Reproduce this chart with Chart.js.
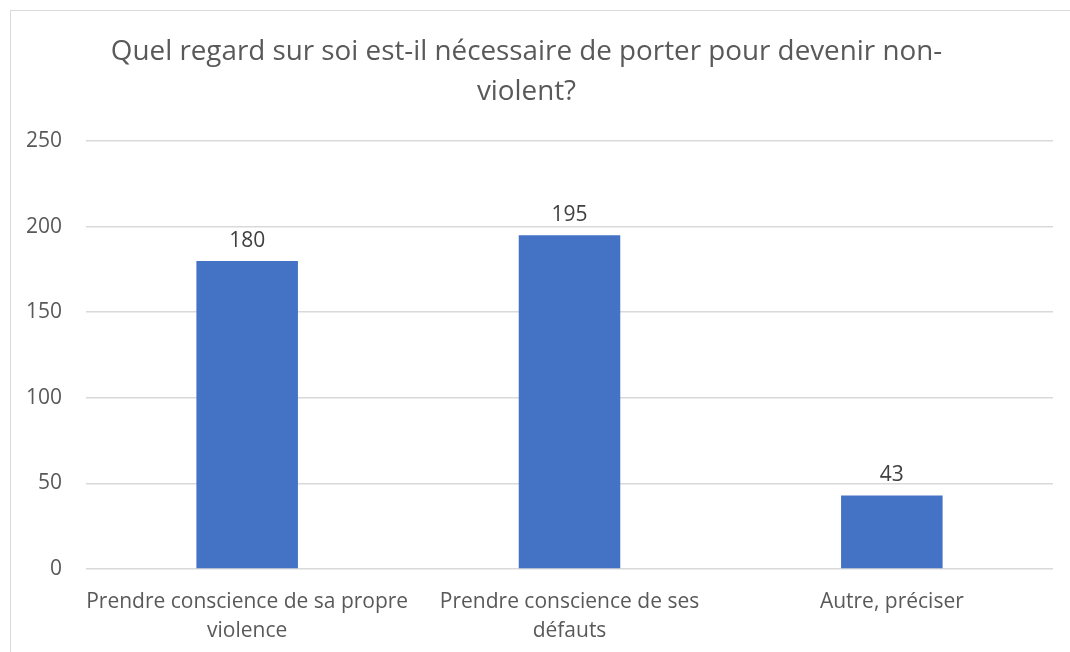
<!DOCTYPE html>
<html><head><meta charset="utf-8">
<script src="https://cdn.jsdelivr.net/npm/chart.js@4/dist/chart.umd.min.js"></script>
<style>
html,body{margin:0;padding:0;background:#fff;}
#wrap{position:relative;width:1070px;height:652px;overflow:hidden;}
#frame{position:absolute;left:10px;top:10px;width:1200px;height:800px;border:1px solid #d9d9d9;}
canvas{position:absolute;left:0;top:0;}
</style></head>
<body>
<div id="wrap"><div id="frame"></div><canvas id="c" width="1070" height="652"></canvas></div>
<script>
const titleLines = ["Quel regard sur soi est-il nécessaire de porter pour devenir non-", "violent?"];
const categories = [["Prendre conscience de sa propre", "violence"], ["Prendre conscience de ses", "défauts"], ["Autre, préciser"]];
const values = [180, 195, 43];
const yTicks = [0, 50, 100, 150, 200, 250];

const FONT = "'Open Sans', sans-serif";
const labelPlugin = {
  id: 'valueLabels',
  afterDatasetsDraw(chart) {
    const ctx = chart.ctx;
    const meta = chart.getDatasetMeta(0);
    ctx.save();
    ctx.fillStyle = '#404040';
    ctx.font = '21px ' + FONT;
    ctx.textAlign = 'center';
    ctx.textBaseline = 'middle';
    meta.data.forEach((bar, i) => {
      ctx.fillText(String(values[i]), bar.x, bar.y - 20);
    });
    ctx.restore();
  }
};

new Chart(document.getElementById('c'), {
  type: 'bar',
  data: {
    labels: categories,
    datasets: [{
      data: values,
      backgroundColor: '#4472C4',
      borderWidth: 0,
      categoryPercentage: 1,
      barPercentage: 0.315
    }]
  },
  options: {
    responsive: false,
    animation: false,
    layout: { padding: { left: 0, right: 17, top: 0, bottom: 0 } },
    plugins: {
      legend: { display: false },
      tooltip: { enabled: false },
      title: {
        display: true,
        text: titleLines,
        color: '#595959',
        font: { family: FONT, size: 27.8, weight: 'normal', lineHeight: 1.44 },
        padding: { top: 32, bottom: 29 }
      }
    },
    scales: {
      x: {
        grid: { display: false, drawTicks: false },
        border: { display: false },
        ticks: {
          color: '#595959',
          font: { family: FONT, size: 21, lineHeight: 1.38 },
          padding: 19,
          maxRotation: 0, autoSkip: false
        },
        afterFit(scale) { scale.height = 83; }
      },
      y: {
        min: 0, max: 250,
        afterBuildTicks(scale) { scale.ticks = yTicks.map(v => ({ value: v })); },
        grid: { color: '#d9d9d9', lineWidth: 1.5, drawTicks: false },
        border: { display: false },
        ticks: {
          color: '#595959',
          font: { family: FONT, size: 21 },
          padding: 24
        },
        afterFit(scale) { scale.width = 86; }
      }
    }
  },
  plugins: [labelPlugin]
});
</script>
</body></html>
